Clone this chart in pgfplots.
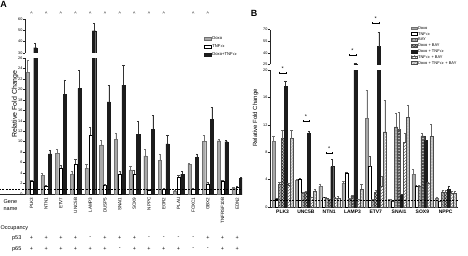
\documentclass[border=0pt]{standalone}
\usepackage{fontspec}
\setmainfont{Liberation Sans}
\usepackage{pgfplots}
\usepackage{pgfplotstable}
\pgfplotsset{compat=1.18}
\usetikzlibrary{patterns}

\definecolor{doxo}{HTML}{A8A8A8}
\definecolor{doxoedge}{HTML}{707070}
\definecolor{combo}{HTML}{1C1C1C}

% Panel A: fold change per gene (Doxo, TNFa, Doxo+TNFa), value and upper error
\pgfplotstableread{
idx d de t te dt dte
0 23.3 2.2 2.5 0.2 34.7 3.9
1 3.6 0.4 1.5 0.2 7.65 0.65
2 7.8 0.7 5.0 0.5 19.1 2.7
3 3.8 0.6 5.7 0.9 20.2 3.5
4 4.9 0.8 11.3 1.5 49.7 6.3
5 9.4 0.8 1.6 0.2 17.6 3.2
6 10.5 1.2 3.8 0.5 20.8 3.9
7 4.6 0.8 3.8 0.8 11.4 2.6
8 7.3 1.2 0.8 0.1 12.4 2.7
9 6.5 1.2 1.0 0.1 9.6 1.7
10 0.6 0.1 3.2 0.4 3.8 0.5
11 5.7 0.2 1.0 0.1 7.0 0.7
12 10.1 1.1 1.9 0.4 14.3 2.3
13 10.2 0.3 2.5 0.2 10.0 0.2
14 1.1 0.2 1.4 0.1 3.0 0.2
}\tabA

% Panel B: seven treatments per gene
\pgfplotstableread{
idx d de t te b be db dbe dt dte tb tbe dtb dtbe
0 9.6 0.8 1.2 0.1 3.3 0.3 10.0 1.2 17.6 0.8 3.2 0.3 10.0 1.2
1 3.9 0.15 4.1 0.1 2.0 0.1 2.2 0.1 10.8 0.3 1.4 0.1 2.3 0.3
2 3.0 0.4 1.4 0.1 1.3 0.1 1.1 0.1 5.9 1.1 1.3 0.2 1.3 0.3
3 3.5 0.25 5.0 0.15 1.2 0.1 1.6 0.1 26 1 1.1 0.1 2.6 0.7
4 12.9 4.2 5.9 1.5 1.1 0.1 2.1 0.3 48 19 3.0 1.5 11.0 4.6
5 1.1 0.05 0.8 0.05 11.7 2.0 11.3 2.6 1.75 0.1 9.5 1.3 13.1 1.8
6 4.8 0.7 3.0 0.2 3.0 0.2 10.4 0.4 9.7 0.7 3.5 0.1 10.3 1.8
7 1.3 0.2 0.8 0.05 2.2 0.3 2.1 0.4 2.6 0.5 2.0 0.3 2.0 0.3
}\tabB

\pgfplotsset{
  panel/.style={
    scale only axis,
    clip=true,
    enlargelimits=false,
    /pgf/number format/assume math mode=true,
    axis line style={line width=0.5pt, black!85},
    tick style={line width=0.4pt, black!85},
    major tick length=1.8bp,
    tick align=outside,
    yticklabel style={font=\fontsize{3.8}{4}\selectfont, inner sep=0.6bp},
    x tick style={draw=none},
  },
  ebar/.style={
    error bars/y dir=plus,
    error bars/y explicit,
    error bars/error bar style={line width=0.35pt, #1},
    error bars/error mark options={rotate=90, mark size=1.1bp, line width=0.35pt, #1},
  },
  sD/.style={fill=doxo, draw=doxoedge, line width=0.3pt, ebar=doxoedge},
  sT/.style={fill=white, draw=black, line width=0.3pt, ebar=black!70},
  sDT/.style={fill=combo, draw=combo, line width=0.3pt, ebar=black!80},
  sB/.style={fill=gray!65, draw=black!70, line width=0.3pt, postaction={pattern=crosshatch dots, pattern color=black!80}, ebar=black!60},
  sDB/.style={fill=gray!45, draw=black!70, line width=0.3pt, postaction={pattern=crosshatch, pattern color=black!85}, ebar=black!60},
  sTB/.style={fill=white, draw=black!70, line width=0.3pt, postaction={pattern=north east lines, pattern color=black!70}, ebar=black!60},
  sDTB/.style={fill=gray!55, draw=black!70, line width=0.3pt, postaction={pattern=crosshatch dots, pattern color=white}, ebar=black!60},
}

\newcommand{\occ}[3]{%
  \node[font=\fontsize{5.5}{5.5}\selectfont] at (axis cs:#1,-8.4) {#2};
  \node[font=\fontsize{5.5}{5.5}\selectfont] at (axis cs:#1,-10.5) {#3};}
\newcommand{\caret}[1]{\node[font=\fontsize{5}{5}\selectfont] at (axis cs:#1,64.3) {\textasciicircum};}
% significance bracket: group, bracket height
\newcommand{\sig}[2]{%
  \draw[line width=0.35pt] (axis cs:#1,#2) ++(-3.2bp,0) -- ++(6.4bp,0)
    ++(0,-1bp) -- ++(0,2bp) ++(-6.4bp,0) -- ++(0,-2bp);
  \node[anchor=base, inner sep=0, font=\fontsize{5.5}{5.5}\selectfont] at (axis cs:#1,#2) [yshift=2.3bp] {*};}

\begin{document}
\begin{tikzpicture}[x=1bp, y=1bp]
\path[use as bounding box] (0,0) rectangle (468,255);

% ---------------- Panel A ----------------
\node[font=\bfseries\fontsize{9}{9}\selectfont, inner sep=0] at (3.6,250.5) {A};
\node[rotate=90, font=\fontsize{7}{7}\selectfont] at (15,151) {Relative Fold Change};
\begin{scope}[font=\fontsize{5.5}{5.5}\selectfont]
  \node[anchor=west, inner sep=0] at (3.5,53.3) {Gene};
  \node[anchor=west, inner sep=0] at (3.5,45.8) {name};
  \node[anchor=west, inner sep=0] at (0.5,26.7) {Occupancy};
  \node[anchor=west, inner sep=0] at (12,16.7) {p53};
  \node[anchor=west, inner sep=0] at (12,5.7) {p65};
\end{scope}

\begin{axis}[panel,
  at={(25bp,61bp)}, anchor=south west, width=217bp, height=136bp,
  xmin=-0.44, xmax=14.32, ymin=0, ymax=26,
  ytick={0,2,...,26},
  axis x line*=bottom, axis y line*=left,
  xtick={0,...,14},
  xticklabels={PLK3,NTN1,ETV7,UNC5B,LAMP3,DUSP5,SNAI1,SOX9,NPPC,EGR2,PLAU,FOXC1,GBX2,TNFRSF10B,EDN2},
  xticklabel style={rotate=90, anchor=east, font=\fontsize{4.6}{5}\selectfont, inner sep=1.5bp},
  ybar, bar width=3.2bp,
  legend style={at={(0.825,1.165)}, anchor=north west, draw=none, fill=none,
    font=\fontsize{4.2}{4.2}\selectfont, row sep=2.2bp, inner sep=0pt,
    nodes={inner sep=0.8bp, text height=3.2bp, text depth=1bp}},
  legend cell align=left,
  legend image code/.code={\draw[#1] (0bp,-1.5bp) rectangle (7bp,1.5bp);},
  after end axis/.code={
    \draw[line width=0.5pt, black!85] (axis cs:-2.2,0) -- (axis cs:-0.44,0);
    \draw[line width=0.45pt, dash pattern=on 2bp off 1.2bp] (axis cs:-2.2,1) -- (axis cs:14.32,1);
    \occ{0}{+}{+}\occ{1}{+}{+}\occ{2}{+}{+}\occ{3}{+}{+}\occ{4}{-}{+}
    \occ{5}{+}{+}\occ{6}{+}{-}\occ{7}{+}{+}\occ{8}{-}{+}\occ{9}{-}{+}
    \occ{10}{-}{+}\occ{11}{-}{-}\occ{12}{+}{-}\occ{13}{+}{+}\occ{14}{+}{+}
  },
]
\addplot[sD, bar shift=-3.8bp] table[x=idx, y=d, y error=de] {\tabA};
\addlegendentry{Doxo}
\addplot[sT, bar shift=0bp] table[x=idx, y=t, y error=te] {\tabA};
\addlegendentry{TNF$\alpha$}
\addplot[sDT, bar shift=3.8bp] table[x=idx, y=dt, y error=dte] {\tabA};
\addlegendentry{Doxo+TNF$\alpha$}
\end{axis}

\begin{axis}[panel,
  at={(25bp,202bp)}, anchor=south west, width=217bp, height=34bp,
  xmin=-0.44, xmax=14.32, ymin=30, ymax=60,
  ytick={30,40,50,60}, xtick=\empty,
  axis y line*=left, axis x line=none,
  ybar, bar width=3.2bp,
  after end axis/.code={
    \caret{0}\caret{1}\caret{2}\caret{3}\caret{4}\caret{5}\caret{6}
    \caret{7}\caret{8}\caret{9}\caret{11}\caret{12}
  },
]
\addplot[sDT, bar shift=3.8bp, restrict y to domain=30:500] table[x=idx, y=dt, y error=dte] {\tabA};
\end{axis}

% ---------------- Panel B ----------------
\node[font=\bfseries\fontsize{9}{9}\selectfont] at (254,241.5) {B};
\node[rotate=90, font=\fontsize{6}{6}\selectfont] at (255.5,137) {Relative Fold Change};

\begin{axis}[panel,
  at={(270bp,48bp)}, anchor=south west, width=188bp, height=137bp,
  xmin=-0.54, xmax=7.53, ymin=0, ymax=20,
  ytick={0,4,...,20},
  axis x line*=bottom, axis y line*=left,
  xtick={0,...,7},
  xticklabels={PLK3,UNC5B,NTN1,LAMP3,ETV7,SNAI1,SOX9,NPPC},
  xticklabel style={font=\bfseries\fontsize{5}{5}\selectfont, inner sep=1.5bp},
  ybar, bar width=3bp,
  legend style={at={(0.75,1.325)}, anchor=north west, draw=none, fill=none,
    font=\fontsize{4}{4}\selectfont, row sep=0.7bp, inner sep=0pt,
    nodes={inner sep=0.6bp, text height=3bp, text depth=0.9bp}},
  legend cell align=left,
  legend image code/.code={\draw[#1] (0bp,-1.4bp) rectangle (6bp,1.4bp);},
  after end axis/.code={
    \draw[line width=0.45pt, dash pattern=on 2bp off 1.2bp] (axis cs:-0.54,1) -- (axis cs:7.53,1);
    \sig{0}{19.6}
    \sig{1}{12.55}
    \sig{2}{7.9}
  },
]
\addplot[sD, bar shift=-9bp] table[x=idx, y=d, y error=de] {\tabB};
\addlegendentry{Doxo}
\addplot[sT, bar shift=-6bp] table[x=idx, y=t, y error=te] {\tabB};
\addlegendentry{TNF$\alpha$}
\addplot[sB, bar shift=-3bp] table[x=idx, y=b, y error=be] {\tabB};
\addlegendentry{BAY}
\addplot[sDB, bar shift=0bp] table[x=idx, y=db, y error=dbe] {\tabB};
\addlegendentry{Doxo + BAY}
\addplot[sDT, bar shift=3bp] table[x=idx, y=dt, y error=dte] {\tabB};
\addlegendentry{Doxo + TNF$\alpha$}
\addplot[sTB, bar shift=6bp] table[x=idx, y=tb, y error=tbe] {\tabB};
\addlegendentry{TNF$\alpha$ + BAY}
\addplot[sDTB, bar shift=9bp] table[x=idx, y=dtb, y error=dtbe] {\tabB};
\addlegendentry{Doxo + TNF$\alpha$ + BAY}
\end{axis}

\begin{axis}[panel,
  at={(270bp,190.5bp)}, anchor=south west, width=188bp, height=35bp,
  xmin=-0.54, xmax=7.53, ymin=25, ymax=70,
  ytick={25,40,55,70}, xtick=\empty,
  axis y line*=left, axis x line=none,
  ybar, bar width=3bp,
  after end axis/.code={
    \sig{3}{37.2}
    \sig{4}{78}
  },
]
\addplot[sDT, bar shift=3bp, restrict y to domain=25:500] table[x=idx, y=dt, y error=dte] {\tabB};
\end{axis}
\end{tikzpicture}
\end{document}
